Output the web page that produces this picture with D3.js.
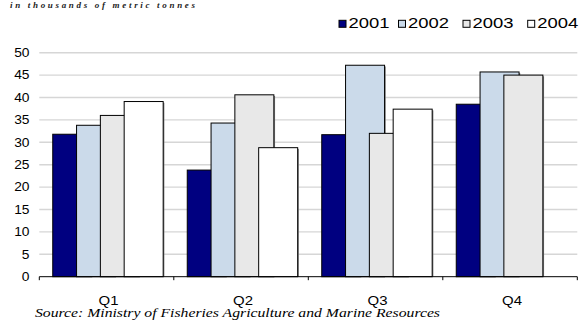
<!DOCTYPE html>
<html>
<head>
<meta charset="utf-8">
<script src="https://cdn.jsdelivr.net/npm/d3@7"></script>
<style>
  html, body { margin: 0; padding: 0; background: #fff; }
  svg { display: block; }
</style>
</head>
<body>
<script>
// Quarterly catch, thousands of metric tonnes
const quarters = ["Q1", "Q2", "Q3", "Q4"];
const years = ["2001", "2002", "2003", "2004"];
const v2001 = [31.8, 23.8, 31.7, 38.5];
const v2002 = [33.8, 34.3, 47.2, 45.7];
const v2003 = [36.0, 40.6, 32.0, 45.0];
const v2004 = [39.1, 28.8, 37.4, null];
const yTicks = [0, 5, 10, 15, 20, 25, 30, 35, 40, 45, 50];
const seriesValues = [v2001, v2002, v2003, v2004];
const colors = ["#000080", "#cbdaea", "#e8e8e8", "#ffffff"];

const W = 580, H = 324;
const svg = d3.select("body").append("svg").attr("width", W).attr("height", H);

const x = d3.scaleBand().domain(quarters).range([39.3, 577.3]).paddingInner(0).paddingOuter(0);
const y = d3.scaleLinear().domain([0, 50]).range([276.7, 52.7]);

const band = x.bandwidth();
const barW = band * 0.29;
const step = band * 0.177;
const lead = band * 0.1;

// horizontal gridlines
svg.append("g").selectAll("line").data(yTicks.filter(t => t > 0)).join("line")
  .attr("x1", 39.3).attr("x2", 577.3)
  .attr("y1", d => y(d)).attr("y2", d => y(d))
  .attr("stroke", "#d6d6d6").attr("stroke-width", 1.4);

// y tick labels (slightly widened glyphs)
svg.append("g").selectAll("text").data(yTicks).join("text")
  .attr("transform", d => `translate(29.5,${y(d) + 4.3}) scale(1.15,1)`)
  .attr("text-anchor", "end")
  .attr("font-family", "Arial, 'Liberation Sans', sans-serif")
  .attr("font-size", 12).attr("fill", "#000")
  .text(d => d);

// bars: each series is drawn over the previous one, so neighbours overlap
const rows = [];
seriesValues.forEach((vals, si) => {
  vals.forEach((v, qi) => {
    if (v != null) rows.push({ si, q: quarters[qi], v });
  });
});
const barG = svg.append("g");
rows.forEach(d => {
  // thin shadow on the lower right of each bar
  barG.append("rect")
    .attr("x", x(d.q) + lead + d.si * step + 1.2)
    .attr("y", y(d.v) + 1.2)
    .attr("width", barW)
    .attr("height", y(0) - y(d.v) - 1.2)
    .attr("fill", "#808080");
  barG.append("rect")
    .attr("x", x(d.q) + lead + d.si * step)
    .attr("y", y(d.v))
    .attr("width", barW)
    .attr("height", y(0) - y(d.v))
    .attr("fill", colors[d.si])
    .attr("stroke", "#000").attr("stroke-width", 1);
});

// category axis
const xAxis = svg.append("g");
xAxis.append("line").attr("x1", 39.3).attr("x2", 577.3)
  .attr("y1", y(0)).attr("y2", y(0)).attr("stroke", "#000").attr("stroke-width", 1);
const boundaries = quarters.map(q => x(q)).concat([x.range()[1]]);
xAxis.selectAll("line.tk").data(boundaries).join("line").attr("class", "tk")
  .attr("x1", d => d).attr("x2", d => d)
  .attr("y1", y(0)).attr("y2", y(0) + 3.5)
  .attr("stroke", "#000").attr("stroke-width", 1);
xAxis.selectAll("text").data(quarters).join("text")
  .attr("transform", d => `translate(${x(d) + band / 2 + 2},304.5) scale(1.15,1)`)
  .attr("text-anchor", "middle")
  .attr("font-family", "Arial, 'Liberation Sans', sans-serif")
  .attr("font-size", 13).attr("fill", "#000")
  .text(d => d);

// legend
const legX = [339, 398.5, 463, 527.7];
const leg = svg.append("g");
years.forEach((yr, i) => {
  leg.append("rect")
    .attr("x", legX[i]).attr("y", 20.3).attr("width", 7).attr("height", 7)
    .attr("fill", colors[i]).attr("stroke", "#000").attr("stroke-width", 1);
  leg.append("text")
    .attr("x", legX[i] + 9.5).attr("y", 28.4)
    .attr("font-family", "Arial, 'Liberation Sans', sans-serif")
    .attr("font-size", 14).attr("fill", "#000")
    .attr("textLength", 41).attr("lengthAdjust", "spacingAndGlyphs")
    .text(yr);
});

// unit note at the top edge
svg.append("text")
  .attr("x", 10).attr("y", 8)
  .attr("font-family", "'Liberation Serif', 'Times New Roman', serif")
  .attr("font-style", "italic").attr("font-weight", "bold")
  .attr("font-size", 9).attr("fill", "#222")
  .attr("textLength", 185).attr("lengthAdjust", "spacing")
  .text("in thousands of metric tonnes");

// source line
svg.append("text")
  .attr("x", 35).attr("y", 317)
  .attr("font-family", "'Liberation Serif', 'Times New Roman', serif")
  .attr("font-style", "italic")
  .attr("font-size", 12).attr("fill", "#000")
  .attr("textLength", 405).attr("lengthAdjust", "spacingAndGlyphs")
  .text("Source: Ministry of Fisheries Agriculture and Marine Resources");
</script>
</body>
</html>
